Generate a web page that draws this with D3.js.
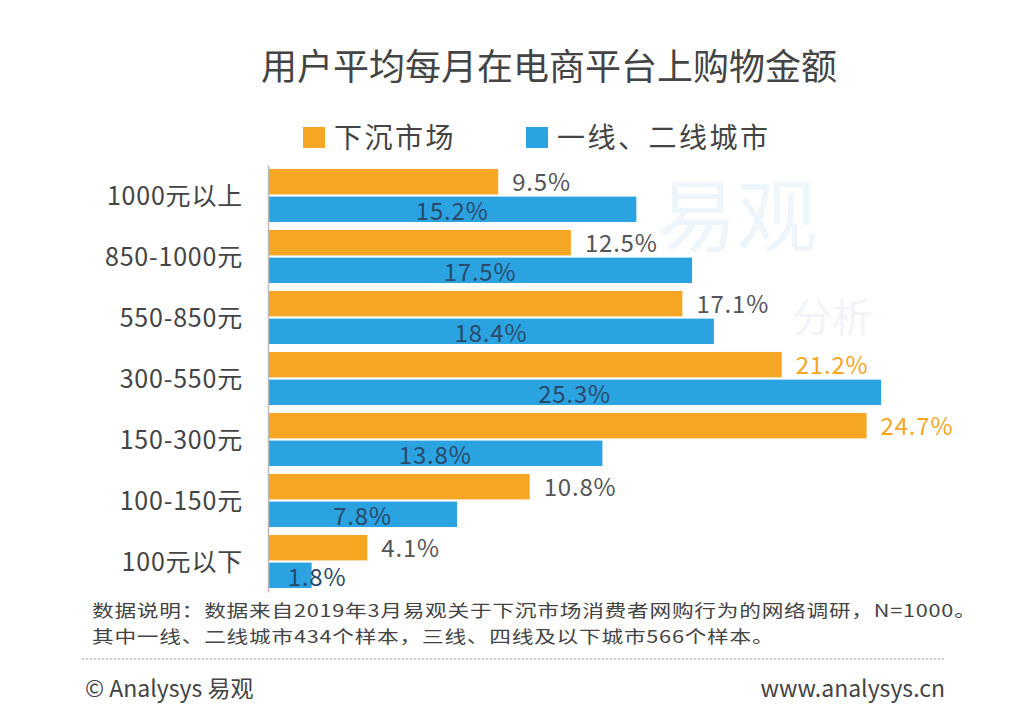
<!DOCTYPE html>
<html><head><meta charset="utf-8">
<script src="https://cdn.jsdelivr.net/npm/d3@7"></script>
<style>
html,body{margin:0;padding:0;background:#fff;}
svg{display:block;font-family:"Noto Sans CJK SC","Noto Sans",sans-serif;}
</style></head>
<body>
<svg id="chart" width="1036" height="712"></svg>
<script>
const title = "用户平均每月在电商平台上购物金额";
const categories = ["1000元以上","850-1000元","550-850元","300-550元","150-300元","100-150元","100元以下"];
const seriesNames = ["下沉市场","一线、二线城市"];
const sinking = [9.5,12.5,17.1,21.2,24.7,10.8,4.1];
const tier12 = [15.2,17.5,18.4,25.3,13.8,7.8,1.8];
const colors = ["#F5A623","#2AA3E0"];
const note1 = "数据说明：数据来自2019年3月易观关于下沉市场消费者网购行为的网络调研，N=1000。";
const note2 = "其中一线、二线城市434个样本，三线、四线及以下城市566个样本。";
const footLeft = "© Analysys 易观";
const footRight = "www.analysys.cn";

const svg = d3.select("#chart");
const x = d3.scaleLinear().domain([0,30]).range([268,995]);
const y = d3.scaleBand().domain(categories).range([165,592]).paddingInner(0.13).paddingOuter(0.065);
const ys = d3.scaleBand().domain([0,1]).range([0,y.bandwidth()]).paddingInner(0.08);

// watermark
svg.append("text").attr("x",657).attr("y",245).attr("font-size",80).attr("fill","#eef5fb").text("易观");
svg.append("text").attr("x",792).attr("y",332).attr("font-size",40).attr("fill","#f1f5f9").text("分析");

// title
svg.append("text").attr("x",549).attr("y",80).attr("text-anchor","middle")
  .attr("font-size",36).attr("font-weight",400).attr("fill","#444").text(title);

// legend
const legX = [303,526];
seriesNames.forEach((n,i)=>{
  svg.append("rect").attr("x",legX[i]).attr("y",127).attr("width",22).attr("height",21).attr("fill",colors[i]);
  svg.append("text").attr("x",legX[i]+31).attr("y",148).attr("font-size",28).attr("letter-spacing",2.5)
    .attr("fill","#444").text(n);
});

// category labels
svg.append("g").selectAll("text").data(categories).join("text")
  .attr("x",243).attr("y",d=>y(d)+y.bandwidth()/2+9).attr("text-anchor","end")
  .attr("font-size",25).attr("letter-spacing",0.8).attr("fill","#444").text(d=>d);

const rows = categories.map((c,i)=>({c, v:[sinking[i],tier12[i]]}));
const g = svg.append("g");
rows.forEach(r=>{
  r.v.forEach((v,s)=>{
    g.append("rect").attr("x",x(0)).attr("y",y(r.c)+ys(s)).attr("width",x(v)-x(0))
      .attr("height",ys.bandwidth()).attr("fill",colors[s]);
  });
  const v0 = r.v[0];
  g.append("text").attr("x",x(v0)+14).attr("y",y(r.c)+ys(0)+ys.bandwidth()/2+9)
    .attr("font-size",24).attr("letter-spacing",0.8)
    .attr("fill", v0>20 ? "#F5A623" : "#555").text(d3.format(".1f")(v0)+"%");
  const v1 = r.v[1];
  const cx = Math.max((x(0)+x(v1))/2, x(0)+49);
  g.append("text").attr("x",cx).attr("y",y(r.c)+ys(1)+ys.bandwidth()/2+11).attr("text-anchor","middle")
    .attr("font-size",24).attr("letter-spacing",0.8).attr("fill","#2a4a6a").text(d3.format(".1f")(v1)+"%");
});

// axis line
svg.append("g").attr("transform",`translate(${x(0)},0)`)
  .call(d3.axisLeft(y).tickSize(0).tickFormat(""))
  .call(a=>a.select(".domain").attr("stroke","#bbb").attr("stroke-width",1.5));

// notes (horizontally widened like the reference)
svg.append("text").attr("transform","translate(92,617) scale(1.24,1)").attr("font-size",17.5)
  .attr("letter-spacing",0.6).attr("fill","#444").text(note1);
svg.append("text").attr("transform","translate(92,643) scale(1.24,1)").attr("font-size",17.5)
  .attr("letter-spacing",0.6).attr("fill","#444").text(note2);
svg.append("line").attr("x1",82).attr("x2",945).attr("y1",659).attr("y2",659)
  .attr("stroke","#ccc").attr("stroke-width",2).attr("stroke-dasharray","2,2");
svg.append("text").attr("x",85).attr("y",697).attr("font-size",23).attr("fill","#444").text(footLeft);
svg.append("text").attr("x",945).attr("y",697).attr("text-anchor","end").attr("font-size",23).attr("fill","#444").text(footRight);
</script>
</body></html>
